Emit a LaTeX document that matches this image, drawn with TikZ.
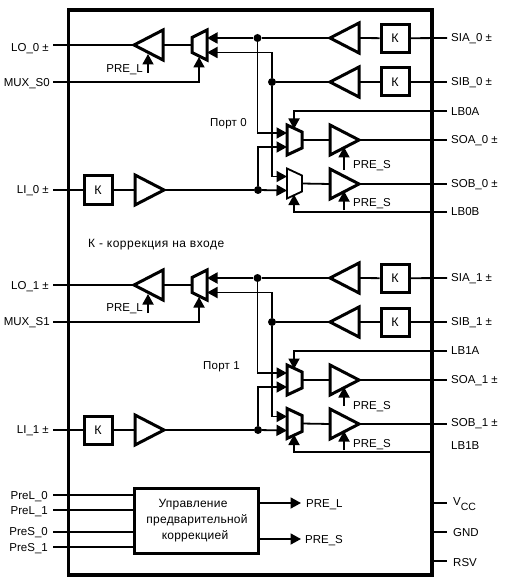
\documentclass[tikz,border=0pt]{standalone}
\usepackage{fontspec}
\setmainfont{Liberation Sans}
\usetikzlibrary{arrows.meta}
\tikzset{
  wire/.style={line width=1.8pt},
  sig/.style={wire,-{Triangle[length=10.5pt,width=11pt]}},
  blockline/.style={line width=3pt,line join=miter,fill=white},
  framebox/.style={line width=3.2pt},
  kbox/.style={draw,line width=3pt,fill=white,minimum width=28pt,minimum height=28pt,inner sep=0pt,font=\fontsize{12.5}{14}\selectfont},
  lab/.style={inner sep=0pt,font=\fontsize{11.5}{13}\selectfont},
  labL/.style={lab,anchor=base east},
  labR/.style={lab,anchor=base west},
  dot/.style={circle,fill=black,inner sep=0pt,minimum size=8pt}
}
\newfontfamily\rusa[LetterSpace=4.3]{Liberation Sans}
\newfontfamily\rusb[LetterSpace=2]{Liberation Sans}
% triangle pointing left, tip at (#2,#3)
\newcommand\ampleft[3]{%
  \coordinate (#1-tip) at (#2,#3);
  \path (#1-tip) ++(29,0) coordinate (#1-back);
  \draw[blockline] (#1-tip) -- ++(29,-15) -- ++(0,30) -- cycle;}
% triangle pointing right, back at (#2,#3)
\newcommand\ampright[3]{%
  \coordinate (#1-back) at (#2,#3);
  \path (#1-back) ++(29,0) coordinate (#1-tip);
  \draw[blockline] (#2,#3-15) -- (#1-tip) -- (#2,#3+15) -- cycle;}
% output mux on the right side of the chip
\newcommand\muxright[4][blockline]{%
  \coordinate (#2-out) at (#3+15,#4);
  \coordinate (#2-in1) at (#3,#4-7);
  \coordinate (#2-in2) at (#3,#4+7);
  \coordinate (#2-top) at (#3+7,#4-11);
  \coordinate (#2-bot) at (#3+7,#4+11);
  \draw[#1] (#3,#4-15) -- (#3+15,#4-8) -- (#3+15,#4+8) -- (#3,#4+15) -- cycle;}
\newcommand\muxleft[3]{%
  \coordinate (#1-out) at (#2,#3);
  \coordinate (#1-in1) at (#2+15,#3-7);
  \coordinate (#1-in2) at (#2+15,#3+7.5);
  \coordinate (#1-sel) at (#2+7,#3+12);
  \draw[blockline] (#2,#3-7.5) -- (#2+15,#3-15) -- (#2+15,#3+15) -- (#2,#3+7.5) -- cycle;}
% one port; #1 prefix, #2 vertical offset, #3 style of the lower mux, #4 end of LB?B line, #5 tail of first PRE_S arrow
\newcommand\portblock[5]{%
\begin{scope}[yshift=-#2pt,name prefix=#1-]
  \ampleft{lo}{134}{45}
  \muxleft{mlo}{192}{45}
  \ampleft{sia}{330}{38}
  \ampleft{sib}{330}{82}
  \node[kbox] (ka) at (395,38.3) {К};
  \node[kbox] (kb) at (395,82) {К};
  \node[kbox] (ki) at (98,190) {К};
  \ampright{li}{135}{190}
  \muxright{ma}{287}{140}
  \muxright[#3]{mb}{287}{183.5}
  \ampright{soa}{330}{140}
  \ampright{sob}{330}{184}
  \node[dot] (j1) at (257.5,38) {};
  \node[dot] (j2) at (272,82) {};
  \node[dot] (j3) at (258,190) {};
  \coordinate (pinlo) at (53,45);
  \coordinate (pinmux) at (53,82);
  \coordinate (pinli) at (53,190);
  \coordinate (pinsia) at (447,38);
  \coordinate (pinsib) at (447,82);
  \coordinate (pinsoa) at (447,140);
  \coordinate (pinsob) at (447,184);
  \coordinate (pinlba) at (447,111);
  \coordinate (pinlbb) at (#4,212);
  \coordinate (prelt) at (148,73);
  \coordinate (prelh) at (148,54);
  \coordinate (prea) at (344,#5);
  \coordinate (preah) at (344,147);
  \coordinate (preb) at (344,210);
  \coordinate (prebh) at (344,191);
  \draw[wire] (pinlo) -- (lo-tip);
  \draw[wire] (lo-back) -- (mlo-out);
  \draw[sig] (pinmux) -| (mlo-sel);
  \draw[sig] (prelt) -- (prelh);
  \draw[sig] (j1) -- (mlo-in1);
  \draw[sig] (j2) |- (mlo-in2);
  \draw[wire] (j1) -- (sia-tip);
  \draw[wire] (j2) -- (sib-tip);
  \draw[wire] (sia-back) -- (ka);
  \draw[wire] (sib-back) -- (kb);
  \draw[wire] (ka) -- (pinsia);
  \draw[wire] (kb) -- (pinsib);
  \draw[sig] (j1) |- (ma-in1);
  \draw[sig] (j3) |- (ma-in2);
  \draw[sig] (j2) |- (mb-in1);
  \draw[sig] (j3) -- (mb-in2);
  \draw[wire] (pinli) -- (ki);
  \draw[wire] (ki) -- (li-back);
  \draw[wire] (li-tip) -- (j3);
  \draw[wire] (ma-out) -- (soa-back);
  \draw[wire] (mb-out) -- (sob-back);
  \draw[wire] (soa-tip) -- (pinsoa);
  \draw[wire] (sob-tip) -- (pinsob);
  \draw[sig] (pinlba) -| (ma-top);
  \draw[sig] (pinlbb) -| (mb-bot);
  \draw[sig] (prea) -- (preah);
  \draw[sig] (preb) -- (prebh);
\end{scope}}
\begin{document}
\begin{tikzpicture}[x=1pt,y=-1pt]
\useasboundingbox (0,0) rectangle (507,577);
\draw[framebox] (68.5,10) rectangle (432,575);
\portblock{p0}{0}{wire,fill=white}{447}{170}
\portblock{p1}{240}{blockline}{432}{166}
% left labels
\node[labL] (tlo0) at (49,51.5) {LO\_0 ±};
\node[labL] (tmx0) at (50,87) {MUX\_S0};
\node[labL] (tli0) at (49,193.7) {LI\_0 ±};
\node[labL] (tlo1) at (49,289.5) {LO\_1 ±};
\node[labL] (tmx1) at (50,325.5) {MUX\_S1};
\node[labL] (tli1) at (49,433.5) {LI\_1 ±};
\node[labL] (tpl0) at (143,72.5) {PRE\_L};
\node[labL] (tpl1) at (143,311.5) {PRE\_L};
% right labels
\node[labR] (tsa0) at (451,41.5) {SIA\_0 ±};
\node[labR] (tsb0) at (451,85.5) {SIB\_0 ±};
\node[labR] (tla0) at (451,115.5) {LB0A};
\node[labR] (tsoa0) at (451,144) {SOA\_0 ±};
\node[labR] (tsob0) at (451,187) {SOB\_0 ±};
\node[labR] (tlb0) at (451,215.7) {LB0B};
\node[labR] (tsa1) at (451,281.5) {SIA\_1 ±};
\node[labR] (tsb1) at (451,325) {SIB\_1 ±};
\node[labR] (tla1) at (451,354.7) {LB1A};
\node[labR] (tsoa1) at (451,383) {SOA\_1 ±};
\node[labR] (tsob1) at (451,426) {SOB\_1 ±};
\node[labR] (tlb1) at (451,449) {LB1B};
\node[labR] (tps0a) at (353,169) {PRE\_S};
\node[labR] (tps0b) at (353,206.7) {PRE\_S};
\node[labR] (tps1a) at (353,409) {PRE\_S};
\node[labR] (tps1b) at (353,447) {PRE\_S};
\node[labR] (tport0) at (210,126.5) {\rusb Порт 0};
\node[labR] (tport1) at (203,369.5) {\rusb Порт 1};
\node[labR,font=\fontsize{12}{14}\selectfont] (tnote) at (88,247) {\rusa К - коррекция на входе};
% control block
\node[draw,line width=3pt,fill=white,minimum width=124pt,minimum height=65pt,inner sep=0pt] (ctl) at (196,520.5) {};
\node[lab,anchor=base,font=\fontsize{12}{14}\selectfont] (tc1) at (193,507.7) {\rusb Управление};
\node[lab,anchor=base,font=\fontsize{12}{14}\selectfont] (tc2) at (197,523.3) {\rusb предварительной};
\node[lab,anchor=base,font=\fontsize{12}{14}\selectfont] (tc3) at (195,539.3) {\rusb коррекцией};
\foreach \nm/\yy/\bb/\txt in {pl0/495/499/PreL\_0,pl1/510/514/PreL\_1,ps0/532/535.7/PreS\_0,ps1/547/551/PreS\_1}{
  \coordinate (in\nm) at (53,\yy);
  \coordinate (end\nm) at (ctl.west |- in\nm);
  \draw[wire] (in\nm) -- (end\nm);
  \node[labL] (t\nm) at (48,\bb) {\txt};
}
\coordinate (outl) at (301,503);
\coordinate (outs) at (301,539);
\coordinate (sl) at (ctl.east |- outl);
\coordinate (ss) at (ctl.east |- outs);
\draw[sig] (sl) -- (outl);
\draw[sig] (ss) -- (outs);
\node[labR] (tol) at (306,507.7) {PRE\_L};
\node[labR] (tos) at (305,543) {PRE\_S};
\foreach \nm/\yy in {vcc/503,gnd/532,rsv/561}{
  \coordinate (a\nm) at (432,\yy);
  \coordinate (b\nm) at (447,\yy);
  \draw[wire] (a\nm) -- (b\nm);
}
\node[labR] (tvcc) at (453,505) {V\raisebox{-5pt}{\fontsize{10.5}{12}\selectfont CC}};
\node[labR] (tgnd) at (453,536.7) {GND};
\node[labR] (trsv) at (453,566) {RSV};
\end{tikzpicture}
\end{document}
